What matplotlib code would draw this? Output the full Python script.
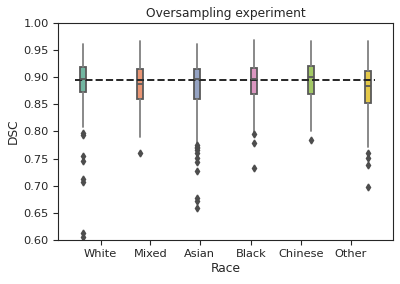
import matplotlib
matplotlib.use("Agg")
import matplotlib.pyplot as plt
import seaborn as sns

sns.set_style("ticks")
plt.rcParams['font.family'] = ['DejaVu Sans']

races = ['White', 'Mixed', 'Asian', 'Black', 'Chinese', 'Other']
medians = [0.896, 0.888, 0.896, 0.896, 0.901, 0.883]
q1 = [0.873, 0.860, 0.860, 0.869, 0.869, 0.853]
q3 = [0.919, 0.915, 0.915, 0.917, 0.921, 0.912]
whis_lo = [0.808, 0.789, 0.778, 0.797, 0.800, 0.772]
whis_hi = [0.962, 0.966, 0.962, 0.969, 0.967, 0.967]
outliers = [
    [0.797, 0.793, 0.755, 0.745, 0.712, 0.707, 0.613, 0.606],
    [0.760],
    [0.775, 0.772, 0.769, 0.766, 0.760, 0.751, 0.744, 0.727, 0.677, 0.671, 0.659],
    [0.795, 0.778, 0.732],
    [0.784],
    [0.760, 0.751, 0.738, 0.697],
]
mean_dsc = 0.8955
colors = sns.color_palette("Set2", 6, desat=0.75)

stats = []
for i in range(len(races)):
    stats.append(dict(med=medians[i], q1=q1[i], q3=q3[i],
                      whislo=whis_lo[i], whishi=whis_hi[i], fliers=outliers[i]))

fig = plt.figure(figsize=(4, 2.84), dpi=100)
ax = fig.add_axes([0.145, 0.155, 0.8375, 0.764])

gray = '0.35'
bp = ax.bxp(stats, positions=range(len(races)), widths=0.12, patch_artist=True,
            boxprops=dict(edgecolor=gray, linewidth=1.3),
            whiskerprops=dict(color='0.5', linewidth=1.3),
            capprops=dict(color='0.45', linewidth=1.3),
            medianprops=dict(color=gray, linewidth=1.3),
            flierprops=dict(marker='d', markerfacecolor='0.3', markeredgecolor='0.3',
                            markersize=3.5))
for patch, c in zip(bp['boxes'], colors):
    patch.set_facecolor(c)
for cap in bp['caps']:
    cap.set_xdata([cap.get_xdata()[0] + 0.035, cap.get_xdata()[1] - 0.035])

ax.plot([-0.14, 5.12], [mean_dsc, mean_dsc], '--', color='0.15', linewidth=1.4)

ax.set_xlim(-0.44, 5.44)
ax.set_ylim(0.6, 1.0)
ax.set_xticks([0.31, 1.18, 2.05, 2.95, 3.82, 4.70])
ax.set_xticklabels(races)
ax.set_yticks([0.60, 0.65, 0.70, 0.75, 0.80, 0.85, 0.90, 0.95, 1.00])
ax.set_yticklabels(['%.2f' % v for v in ax.get_yticks()])
ax.tick_params(labelsize=8.2, length=3.5, pad=3)
ax.set_xlabel('Race', fontsize=8.8, labelpad=2)
ax.set_ylabel('DSC', fontsize=8.8, labelpad=3)
ax.set_title('Oversampling experiment', fontsize=8.8, pad=4)

fig.savefig('out.png', dpi=100)
